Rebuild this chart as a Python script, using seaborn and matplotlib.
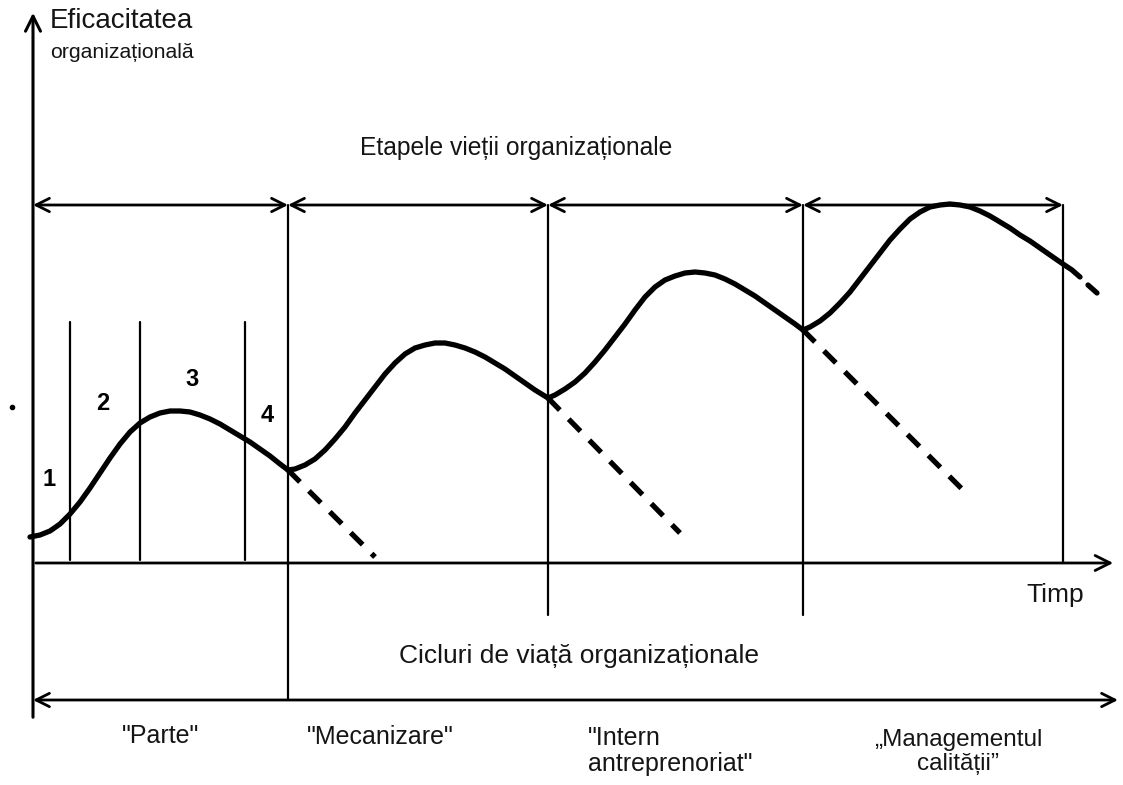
import matplotlib
matplotlib.use("Agg")
import matplotlib.pyplot as plt
import seaborn as sns
import pandas as pd

sns.set_theme(style="white")
plt.rcParams['font.family'] = ['Liberation Sans', 'DejaVu Sans']

# ---- data (horizontal = time, vertical = screen units; smaller = higher efficacy) ----
c1_x = [30, 40, 50, 60, 70, 80, 90, 100, 110, 120, 130, 140, 150, 160, 170, 180, 190, 200,
        210, 220, 230, 240, 250, 260, 270, 280, 288]
c1_y = [537, 535, 531, 524, 514, 502, 488, 473, 458, 444, 432, 423, 417, 413, 411, 411, 412, 415,
        419, 424, 430, 436, 442, 449, 456, 464, 470]
c2_x = [288, 295, 305, 315, 325, 335, 345, 355, 365, 375, 385, 395, 405, 415, 425, 435, 445,
        455, 465, 475, 485, 495, 505, 515, 525, 535, 548]
c2_y = [470, 469, 465, 459, 450, 439, 427, 413, 400, 387, 374, 363, 354, 348, 345, 343, 343,
        345, 348, 352, 357, 363, 369, 376, 383, 390, 398]
c3_x = [548, 555, 565, 575, 585, 595, 605, 615, 625, 635, 645, 655, 665, 675, 685, 695, 705,
        715, 725, 735, 745, 755, 765, 775, 785, 795, 803]
c3_y = [398, 395, 389, 382, 373, 362, 350, 337, 324, 310, 297, 287, 280, 276, 273, 272, 273,
        275, 279, 284, 290, 296, 303, 310, 317, 324, 330]
c4_x = [803, 810, 820, 830, 840, 850, 860, 870, 880, 890, 900, 910, 920, 930, 940, 950, 960,
        970, 980, 990, 1000, 1010, 1020, 1030, 1040, 1050, 1063, 1072, 1080]
c4_y = [330, 327, 321, 313, 303, 292, 279, 266, 253, 240, 229, 219, 212, 207, 205, 204, 205,
        207, 211, 216, 222, 228, 235, 241, 248, 255, 264, 270, 277]
decline_x0 = [288, 548, 803, 1088]
decline_y0 = [470, 398, 330, 285]
decline_x1 = [375, 680, 963, 1097]
decline_y1 = [557, 533, 490, 293]

stage_bounds = [33, 288, 548, 803, 1063]
phase_lines = [70, 140, 245]
phase_labels = ["1", "2", "3", "4"]
phase_label_x = [49, 103, 192, 267]
phase_label_y = [480, 404, 379, 416]
cycle_names = ['"Parte"', '"Mecanizare"', '"Intern\nantreprenoriat"', '\u201eManagementul\ncalit\u0103\u021bii\u201d']

fig = plt.figure(figsize=(11.23, 7.85), dpi=100)
ax = fig.add_axes([0, 0, 1, 1])

k = "black"
tc = "#151515"
thin = 1.6

# axes arrows
ax.annotate("", xy=(33, 10), xytext=(33, 720),
            arrowprops=dict(arrowstyle="->,head_length=0.9,head_width=0.45", lw=2.2, color=k))
ax.annotate("", xy=(1116, 563), xytext=(33, 563),
            arrowprops=dict(arrowstyle="->,head_length=0.9,head_width=0.45", lw=2.0, color=k))

# stage arrows on top
for a, b in zip(stage_bounds[:-1], stage_bounds[1:]):
    ax.annotate("", xy=(b, 205), xytext=(a, 205),
                arrowprops=dict(arrowstyle="<->,head_length=0.8,head_width=0.4", lw=2.0, color=k,
                                shrinkA=0, shrinkB=0))
# vertical stage lines
ax.plot([288, 288], [205, 700], color=k, lw=thin)
ax.plot([548, 548], [205, 615], color=k, lw=thin)
ax.plot([803, 803], [205, 615], color=k, lw=thin)
ax.plot([1063, 1063], [205, 563], color=k, lw=thin)
for x in phase_lines:
    ax.plot([x, x], [322, 560], color=k, lw=thin)

# bottom cycle arrow
ax.annotate("", xy=(1118, 700), xytext=(33, 700),
            arrowprops=dict(arrowstyle="<->,head_length=0.8,head_width=0.4", lw=2.0, color=k,
                            shrinkA=0, shrinkB=0))

# efficacy curves
for xs, ys in [(c1_x, c1_y), (c2_x, c2_y), (c3_x, c3_y), (c4_x, c4_y)]:
    df = pd.DataFrame({"t": xs, "e": ys})
    sns.lineplot(data=df, x="t", y="e", sort=False, ax=ax, color=k, lw=3.8,
                 solid_capstyle="round", solid_joinstyle="round")
for i, (x0, y0, x1, y1) in enumerate(zip(decline_x0, decline_y0, decline_x1, decline_y1)):
    ls = "-" if i == 3 else (0, (3.2, 2.4))
    ax.plot([x0, x1], [y0, y1], color=k, lw=3.8, linestyle=ls)

ax.set_xlim(0, 1123)
ax.set_ylim(785, 0)
ax.axis("off")

# small dot
ax.plot([12], [407], marker="o", ms=3, color=k)

# texts
ax.text(50, 21, "Eficacitatea", fontsize=20, va="center", ha="left", color=tc)
ax.text(50, 53, "organiza\u021bional\u0103", fontsize=15.3, va="center", ha="left", color=tc)
ax.text(516, 148, "Etapele vie\u021bii organiza\u021bionale", fontsize=17.7, va="center", ha="center", color=tc)
ax.text(1055, 595, "Timp", fontsize=19, va="center", ha="center", color=tc)
ax.text(579, 656, "Cicluri de via\u021b\u0103 organiza\u021bionale", fontsize=19, va="center", ha="center", color=tc)
for s, x, y in zip(phase_labels, phase_label_x, phase_label_y):
    ax.text(x, y, s, fontsize=17, fontweight="bold", va="center", ha="center", color=k)

ax.text(161, 736, cycle_names[0], fontsize=18, va="center", ha="center", color=tc)
ax.text(380, 737, cycle_names[1], fontsize=18, va="center", ha="center", color=tc)
ax.text(588, 751, cycle_names[2], fontsize=18, va="center", ha="left", color=tc, linespacing=1.1)
ax.text(958, 752, cycle_names[3], fontsize=17.5, va="center", ha="center", color=tc, linespacing=1.1)

fig.savefig("out.png", dpi=100, facecolor="white")
